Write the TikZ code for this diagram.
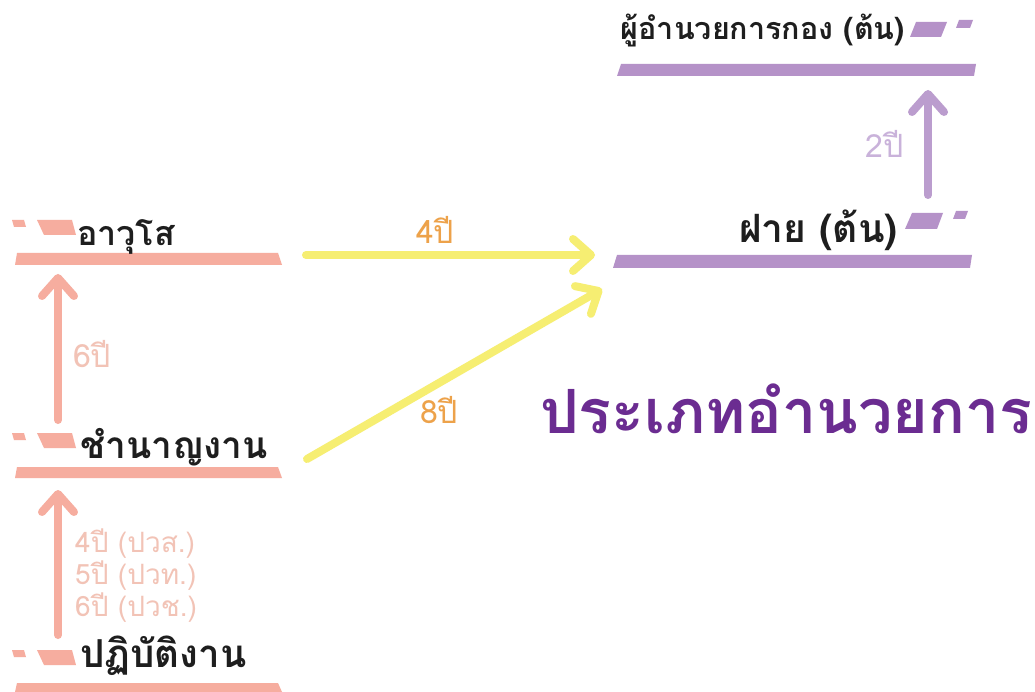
\documentclass[tikz,border=0pt]{standalone}
\usepackage{fontspec}
\newfontfamily\thai[Script=Thai]{Loma}
\usetikzlibrary{arrows.meta}
\definecolor{salmon}{HTML}{F6AD9F}
\definecolor{salmonlt}{HTML}{F2C3B6}
\definecolor{lilac}{HTML}{B592C8}
\definecolor{lilacarr}{HTML}{BB9DCE}
\definecolor{lilaclt}{HTML}{C9B2DA}
\definecolor{purpdark}{HTML}{6B2C91}
\definecolor{yel}{HTML}{F6EE72}
\definecolor{orng}{HTML}{EDA24A}
\definecolor{ink}{HTML}{1E1E1E}
\tikzset{
  level/.style={font=\thai\bfseries\fontsize{37}{39}\selectfont, text=ink, inner sep=0pt},
  small/.style={font=\thai\fontsize{32}{34}\selectfont, inner sep=0pt},
  tiny/.style={font=\thai\fontsize{28}{30}\selectfont, inner sep=0pt, text=salmonlt, anchor=base west},
  arr/.style={line width=8pt, line cap=round, -{Straight Barb[length=18pt,width=32pt,round]}},
}
\begin{document}
\begin{tikzpicture}[x=1pt,y=-1pt]
\useasboundingbox[fill=white] (0,0) rectangle (1035,692);

% ---------- bars ----------
\fill[lilac] (617,76) -- (621,64) -- (976,64) -- (974,76) -- cycle;
\fill[lilac] (613,268) -- (617,255) -- (972,255) -- (970,268) -- cycle;
\fill[salmon] (15,265) -- (17,253) -- (278,253) -- (282,265) -- cycle;
\fill[salmon] (15,478) -- (17,467) -- (278,467) -- (282,478) -- cycle;
\fill[salmon] (15,692) -- (17,683) -- (278,683) -- (282,692) -- cycle;

% ---------- decorations ----------
\fill[lilac] (910,37) -- (916,22) -- (947,22) -- (941,37) -- cycle;
\fill[lilac] (956,28) -- (959,20) -- (973,20) -- (970,28) -- cycle;
\fill[lilac] (905,229) -- (912,213) -- (943,213) -- (937,229) -- cycle;
\fill[lilac] (953,219) -- (956,211) -- (968,211) -- (965,219) -- cycle;
\foreach \y in {220,433,650}{
  \fill[salmon] (12,\y) -- (24,\y) -- (26,\y+7) -- (14,\y+7) -- cycle;
  \fill[salmon] (37,\y) -- (72,\y) -- (76,\y+15) -- (44,\y+15) -- cycle;
}

% ---------- level labels ----------
\node[level, anchor=base east, font=\thai\bfseries\fontsize{30.5}{32}\selectfont] (kong) at (905,40) {ผู้อำนวยการกอง (ต้น)};
\node[level, anchor=base east, font=\thai\bfseries\fontsize{39}{41}\selectfont] (fai) at (898,243) {ฝาย (ต้น)};
\node[level, anchor=base west, font=\thai\bfseries\fontsize{34}{36}\selectfont] (awuso) at (77,246) {อาวุโส};
\node[level, anchor=base west] (chamnan) at (80,458) {ชำนาญงาน};
\node[level, anchor=base west, font=\thai\bfseries\fontsize{38.5}{40}\selectfont] (patibat) at (80,667) {ปฏิบัติงาน};

\node[anchor=base west, inner sep=0pt, text=purpdark, font=\thai\bfseries\fontsize{61}{63}\selectfont] (title) at (540,433) {ประเภทอำนวยการ};

% ---------- connector ends ----------
\coordinate (faiS) at (928,195);
\coordinate (kongE) at (928,90);
\coordinate (chS) at (58,420);
\coordinate (awE) at (58,274);
\coordinate (paS) at (58,635);
\coordinate (chE) at (58,490);
\coordinate (awR) at (306,255);
\coordinate (faiL1) at (595,255);
\coordinate (chR) at (307,459);
\coordinate (faiL2) at (602,289);

\draw[arr, lilacarr] (faiS) -- (kongE);
\draw[arr, salmon] (chS) -- (awE);
\draw[arr, salmon] (paS) -- (chE);
\draw[arr, yel] (awR) -- (faiL1);
\draw[arr, yel] (chR) -- (faiL2);

% ---------- connector labels ----------
\node[small, anchor=base west, text=lilaclt] (l2) at (865,158) {2ปี};
\node[small, anchor=base west, text=salmonlt] (l6) at (73,367) {6ปี};
\node[small, anchor=base west, text=orng] (l4) at (416,244) {4ปี};
\node[small, anchor=base west, text=orng] (l8) at (420,423) {8ปี};
\node[tiny] (lp1) at (75,552) {4ปี (ปวส.)};
\node[tiny] (lp2) at (75,584) {5ปี (ปวท.)};
\node[tiny] (lp3) at (75,616) {6ปี (ปวช.)};
\end{tikzpicture}
\end{document}
